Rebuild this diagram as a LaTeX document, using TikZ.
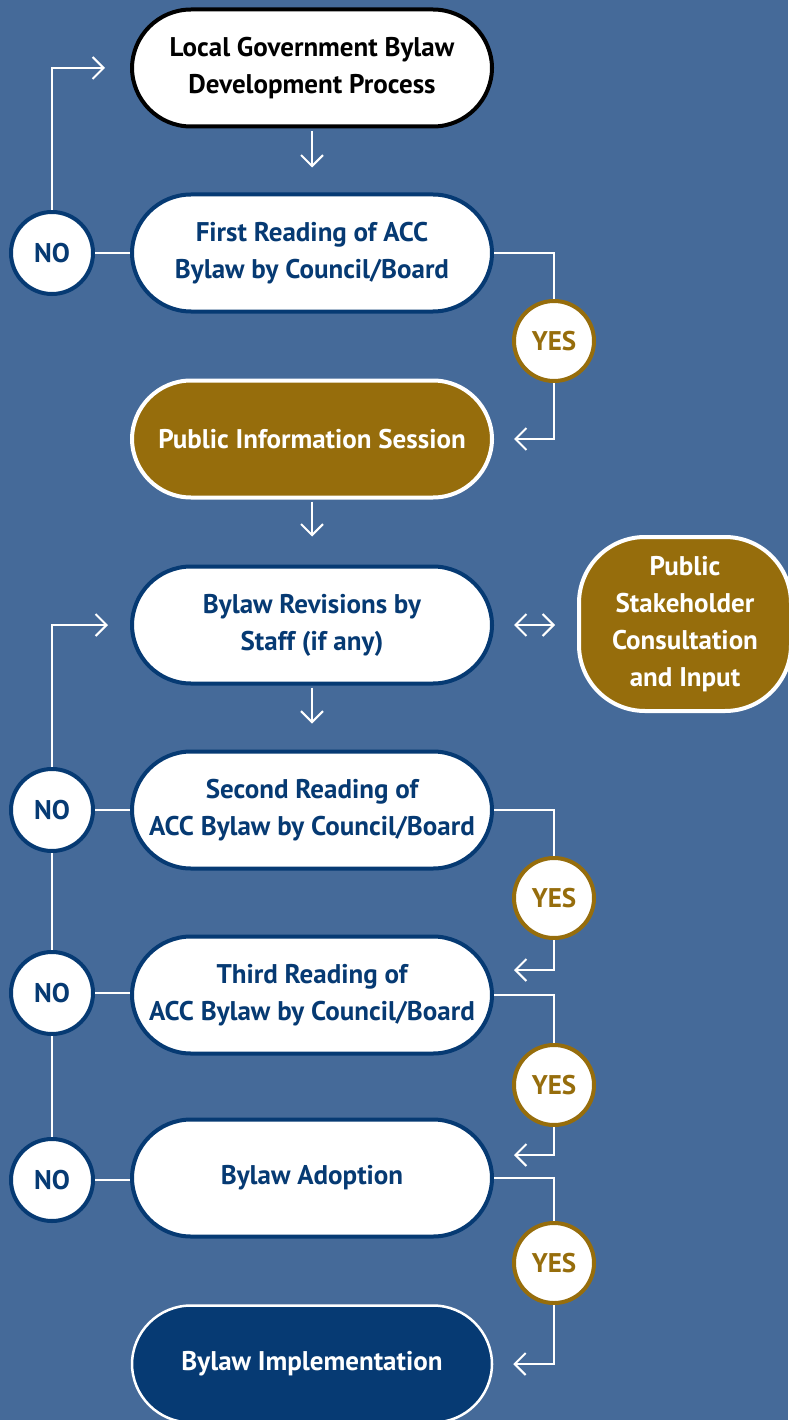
\documentclass[tikz,border=0pt]{standalone}
\usepackage{fontspec}
\setmainfont{PT Sans}
\usetikzlibrary{arrows.meta}
\definecolor{bg}{HTML}{456A99}
\definecolor{dblue}{HTML}{063A73}
\definecolor{gold}{HTML}{966D0C}
\tikzset{
  pill/.style={rectangle, rounded corners=59pt, minimum width=360pt, minimum height=117pt,
    line width=4pt, align=center, font=\fontsize{27}{37}\selectfont\bfseries},
  whitepill/.style={pill, draw=dblue, fill=white, text=dblue},
  goldpill/.style={pill, draw=white, fill=gold, text=white},
  nocirc/.style={circle, draw=dblue, fill=white, line width=4pt, minimum size=82pt, inner sep=0pt,
    text=dblue, font=\fontsize{27}{30}\selectfont\bfseries},
  yescirc/.style={circle, draw=gold, fill=white, line width=4pt, minimum size=80pt, inner sep=0pt,
    text=gold, font=\fontsize{27}{30}\selectfont\bfseries},
  link/.style={draw=white, line width=2pt},
  conn/.style={link, -{Straight Barb[length=11pt,width=22pt,line width=2pt]}},
}
\begin{document}
\begin{tikzpicture}[x=1pt,y=-1pt]
\useasboundingbox (0,0) rectangle (788,1420);
\fill[bg] (0,0) rectangle (788,1420);

\node[pill, draw=black, fill=white, text=black] (n1) at (312,68) {Local Government Bylaw\\Development Process};
\node[whitepill] (n2) at (312,253) {First Reading of ACC\\Bylaw by Council/Board};
\node[goldpill] (n3) at (312,439) {Public Information Session};
\node[whitepill] (n4) at (312,625) {Bylaw Revisions by\\Staff (if any)};
\node[goldpill, rounded corners=66pt, minimum width=212pt, minimum height=174pt] (n5) at (685,624) {Public\\Stakeholder\\Consultation\\and Input};
\node[whitepill] (n6) at (312,810) {Second Reading of\\ACC Bylaw by Council/Board};
\node[whitepill] (n7) at (312,995) {Third Reading of\\ACC Bylaw by Council/Board};
\node[whitepill] (n8) at (312,1178) {Bylaw Adoption};
\node[pill, draw=white, line width=2.5pt, fill=dblue, text=white] (n9) at (312,1364) {Bylaw Implementation};

\node[nocirc] (no1) at (52,253) {NO};
\node[nocirc] (no2) at (52,810) {NO};
\node[nocirc] (no3) at (52,993) {NO};
\node[nocirc] (no4) at (52,1180) {NO};

\node[yescirc] (y1) at (554,341) {YES};
\node[yescirc] (y2) at (554,898) {YES};
\node[yescirc] (y3) at (554,1085) {YES};
\node[yescirc] (y4) at (554,1263) {YES};

% main vertical arrows
\draw[conn, shorten <=3pt, shorten >=25pt] (n1.south) -- (n2.north);
\draw[conn, shorten <=2pt, shorten >=28pt] (n3.south) -- (n4.north);
\draw[conn, shorten <=2pt, shorten >=26pt] (n4.south) -- (n6.north);

% stakeholder double arrow
\draw[link, {Straight Barb[length=11pt,width=22pt,line width=2pt]}-{Straight Barb[length=11pt,width=22pt,line width=2pt]}, shorten <=20pt, shorten >=22pt] (n4.east) -- (n5.west |- n4.east);

% NO branches
\draw[link] (no1.east) -- (n2.west);
\draw[conn, shorten >=25pt] (no1.north) |- (n1.west);
\draw[link] (no2.east) -- (n6.west);
\draw[conn, shorten >=22pt] (no2.north) |- (n4.west);
\draw[link] (no2.south) -- (no3.north);
\draw[link] (no3.east) -- (n7.west |- no3.east);
\draw[link] (no3.south) -- (no4.north);
\draw[link] (no4.east) -- (n8.west |- no4.east);

% YES branches
\draw[link] (n2.east) -| (y1.north);
\draw[conn, shorten >=20pt] (y1.south) |- (n3.east);
\draw[link] (n6.east) -| (y2.north);
\draw[conn, shorten >=20pt] (y2.south) |- ([yshift=25pt]n7.east);
\draw[link] (n7.east) -| (y3.north);
\draw[conn, shorten >=20pt] (y3.south) |- ([yshift=23pt]n8.east);
\draw[link] (n8.east) -| (y4.north);
\draw[conn, shorten >=20pt] (y4.south) |- (n9.east);
\end{tikzpicture}
\end{document}
